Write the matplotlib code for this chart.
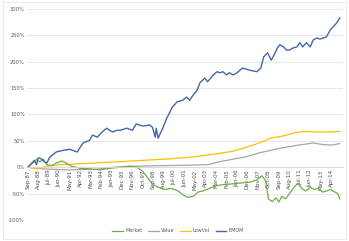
import matplotlib.pyplot as plt
from matplotlib.patches import Rectangle

# month offsets from Sep-87, cumulative return in %
market_m = [0, 5, 9, 13, 16, 20, 25, 30, 36, 40, 46, 55, 65, 76, 86, 97, 107, 115, 121, 126,
            131, 137, 144, 151, 158, 163, 168, 174, 179, 184, 191, 198, 205, 212, 223, 234,
            241, 246, 250, 253, 257, 261, 264, 267, 271, 275, 280, 284, 288, 292, 297, 301,
            305, 310, 314, 318, 322, 326, 328]
market = [0, 8, 15, 10, 16, 5, 3, 8, 12, 8, 2, -2, -3, -5, -2, 0, 2, 0, -8, -20,
          -32, -38, -42, -40, -45, -52, -57, -55, -47, -45, -40, -35, -33, -32, -30, -28,
          -24, -16, -25, -60, -65, -58, -66, -55, -60, -50, -38, -30, -40, -45, -38, -42,
          -40, -47, -45, -42, -46, -50, -60]

value_m = [0, 15, 40, 70, 90, 110, 140, 170, 190, 200, 215, 230, 245, 258, 265, 285, 300,
           310, 320, 328]
value = [0, -3, -5, -4, 0, 2, 3, 4, 5, 10, 15, 20, 28, 33, 36, 42, 46, 43, 42, 45]

lowvol_m = [0, 10, 20, 35, 60, 90, 110, 130, 150, 170, 180, 200, 215, 230, 245, 255, 268,
            280, 290, 300, 310, 320, 328]
lowvol = [0, -3, 2, 5, 7, 10, 12, 14, 16, 19, 21, 26, 30, 38, 47, 55, 59, 65, 68, 67, 67,
          67, 68]

emom_m = [0, 7, 9, 11, 13, 17, 20, 23, 30, 37, 44, 52, 58, 65, 68, 73, 76, 79, 83, 86, 89,
          94, 97, 104, 110, 114, 121, 128, 131, 134, 135, 137, 139, 142, 146, 149, 152, 157,
          163, 167, 170, 174, 178, 181, 186, 189, 195, 199, 202, 205, 209, 212, 216, 220,
          223, 226, 233, 241, 245, 248, 252, 256, 259, 263, 265, 269, 272, 275, 279, 283,
          286, 289, 293, 297, 300, 304, 307, 311, 314, 318, 321, 325, 328]
emom = [0, 13, 5, 18, 17, 11, 8, 19, 29, 32, 34, 29, 46, 51, 61, 57, 63, 68, 74, 70, 67,
        70, 70, 74, 70, 82, 78, 80, 76, 57, 74, 55, 63, 74, 93, 103, 114, 124,
        127, 133, 127, 137, 146, 160, 169, 162, 175, 181, 179, 181, 175, 179, 175, 179,
        184, 188, 184, 181, 188, 209, 217, 203, 213, 228, 232, 228, 222, 222, 226, 228,
        236, 228, 236, 228, 241, 245, 243, 245, 247, 260, 266, 274, 283]

tick_pos = list(range(0, 320, 11))
tick_labels = ['Sep-87', 'Aug-88', 'Jul-89', 'Jun-90', 'May-91', 'Apr-92', 'Mar-93',
               'Feb-94', 'Jan-95', 'Dec-95', 'Nov-96', 'Oct-97', 'Sep-98', 'Aug-99',
               'Jul-00', 'Jun-01', 'May-02', 'Apr-03', 'Mar-04', 'Feb-05', 'Jan-06',
               'Dec-06', 'Nov-07', 'Oct-08', 'Sep-09', 'Aug-10', 'Jul-11', 'Jun-12',
               'May-13', 'Apr-14']

fig = plt.figure(figsize=(3.49, 2.41), dpi=100)
ax = fig.add_axes([0.077, 0.087, 0.906, 0.876])

ax.plot(value_m, value, color='#A5A5A5', lw=0.9, label='Value')
ax.plot(lowvol_m, lowvol, color='#FFC000', lw=0.9, label='LowVol')
ax.plot(market_m, market, color='#70AD47', lw=0.9, label='Market')
ax.plot(emom_m, emom, color='#4466A8', lw=1.0, label='EMOM')

ax.set_xlim(-1, 331.5)
ax.set_ylim(-100, 300)
ax.set_yticks(range(-100, 301, 50))
ax.set_yticklabels([f'{v}%' for v in range(-100, 301, 50)])
ax.set_xticks(tick_pos)
ax.set_xticklabels(tick_labels)
ax.tick_params(axis='both', length=0, labelsize=3.7, labelcolor='#595959', pad=1.5)
ax.tick_params(axis='x', labelrotation=90, labelsize=4.0, labelcolor='#505050')

ax.grid(axis='y', color='#E3E3E3', lw=0.6)
ax.set_axisbelow(True)
for s in ['top', 'right', 'left']:
    ax.spines[s].set_visible(False)
ax.spines['bottom'].set_position(('data', 0))
ax.spines['bottom'].set_color('#D9D9D9')
ax.spines['bottom'].set_linewidth(0.6)

handles, labels = ax.get_legend_handles_labels()
order = [2, 0, 1, 3]
fig.legend([handles[i] for i in order], [labels[i] for i in order], loc='center',
           bbox_to_anchor=(0.51, 0.042), ncol=4, frameon=False, fontsize=3.5,
           handlelength=2.2, handletextpad=0.4, labelcolor='#595959', columnspacing=1.2)

fig.patches.append(Rectangle((0.008, 0.008), 0.984, 0.984, transform=fig.transFigure,
                             fill=False, edgecolor='#E6E6E6', lw=0.6))

fig.savefig('out.png', dpi=100)
